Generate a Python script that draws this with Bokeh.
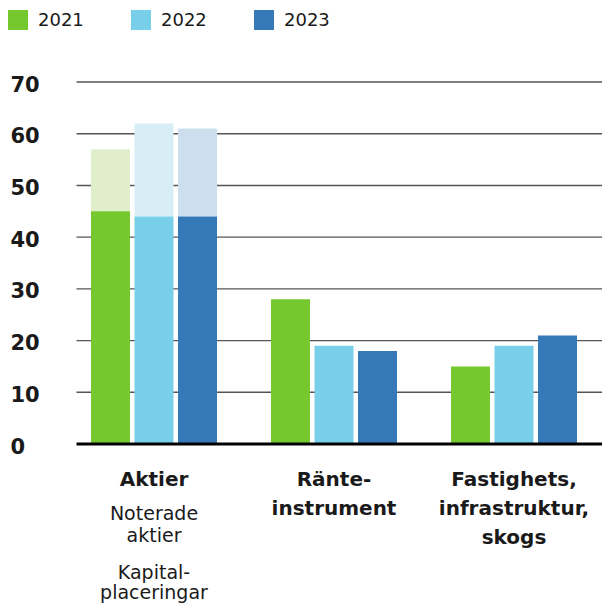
from bokeh.plotting import figure
from bokeh.models import Range1d, Legend, LegendItem
from bokeh.core.properties import value
from bokeh.embed import file_html
from bokeh.resources import INLINE

# ---- data ----
categories = ["Aktier", "Ränte-instrument", "Fastighets, infrastruktur, skogs"]
years = ["2021", "2022", "2023"]
v2021 = [45, 28, 15]          # Aktier: noterade aktier part
v2022 = [44, 19, 19]
v2023 = [44, 18, 21]
aktier_total = [57, 62, 61]   # Aktier incl. kapitalplaceringar, per year
y_ticks = [0, 10, 20, 30, 40, 50, 60, 70]
y_tick_labels = ["0", "10", "20", "30", "40", "50", "60", "70"]
heading_lines = [["Aktier"], ["Ränte-", "instrument"], ["Fastighets,", "infrastruktur,", "skogs"]]
aktier_sub_lines = ["Noterade", "aktier", "Kapital-", "placeringar"]

colors = ["#76C82F", "#78CFEA", "#3679B9"]
light_colors = ["#E0EECB", "#D8EEF7", "#CDDFEE"]

FONT = "DejaVu Sans"
PX = 5.171          # pixels per unit
ZERO = 443.5        # pixel row of value 0 (from top)
W, H = 602, 603

def ypix(py):       # pixel row (from top) -> data y
    return (ZERO - py) / PX

p = figure(width=W, height=H,
           x_range=Range1d(0.14722, 3.49167), y_range=Range1d(ypix(H), ypix(0)),
           x_axis_location=None, y_axis_location=None,
           min_border=0, outline_line_color=None,
           toolbar_location=None, output_backend="svg")
p.grid.visible = False
p.background_fill_color = "white"

# gridlines from tick list
grid_x0 = 0.5694
grid_x1 = 3.4917
p.segment(x0=[grid_x0] * (len(y_ticks) - 1), x1=[grid_x1] * (len(y_ticks) - 1),
          y0=y_ticks[1:], y1=y_ticks[1:], line_color="#555555", line_width=1.4)

centers = [1, 2, 3]
offsets = [-0.2417, 0.0, 0.2417]
bw = 0.2167
series = [v2021, v2022, v2023]

renderers = []
for i, vals in enumerate(series):
    xs = [c + offsets[i] for c in centers]
    # light upper portion for Aktier (kapitalplaceringar)
    p.vbar(x=[xs[0]], bottom=[vals[0]], top=[aktier_total[i]], width=bw,
           fill_color=light_colors[i], line_color=None)
    r = p.vbar(x=xs, bottom=0, top=vals, width=bw,
               fill_color=colors[i], line_color=None)
    renderers.append(r)

# baseline
p.segment(x0=[grid_x0], x1=[grid_x1], y0=[y_ticks[0]], y1=[y_ticks[0]],
          line_color="black", line_width=3)

# y tick labels
p.text(x=[0.2028] * len(y_ticks), y=y_ticks, text=y_tick_labels,
       text_font=value(FONT), text_font_size="21px", text_font_style="bold",
       text_color="#1a1a1a", text_align="left", text_baseline="middle",
       y_offset=1.5)

# category headings
hx, hy, ht = [], [], []
for c, lines in zip(centers, heading_lines):
    for j, t in enumerate(lines):
        hx.append(c)
        hy.append(ypix(478 + 29 * j))
        ht.append(t)
p.text(x=hx, y=hy, text=ht, text_font=value(FONT), text_font_size="20px",
       text_font_style="bold", text_color="#1a1a1a",
       text_align="center", text_baseline="alphabetic")

# Aktier sub lines
sub_py = [512, 534, 571, 591]
p.text(x=[centers[0]] * len(aktier_sub_lines), y=[ypix(v) for v in sub_py],
       text=aktier_sub_lines, text_font=value(FONT), text_font_size="19px",
       text_color="#1a1a1a", text_align="center", text_baseline="alphabetic")

legend = Legend(items=[LegendItem(label=y, renderers=[r]) for y, r in zip(years, renderers)],
                orientation="horizontal", location=(5, 571),
                glyph_width=25, glyph_height=25, label_standoff=8,
                label_width=90, label_height=25, spacing=0, padding=0, margin=0,
                border_line_color=None, background_fill_alpha=0,
                label_text_font=FONT, label_text_font_size="18px",
                label_text_color="#1a1a1a")
p.add_layout(legend)

open("out.html", "w").write(file_html(p, INLINE))
